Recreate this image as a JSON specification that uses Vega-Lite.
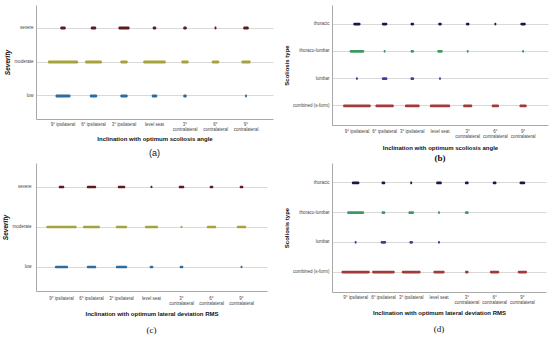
{
  "$schema": "https://vega.github.io/schema/vega-lite/v6.json",
  "padding": {"left": 2, "top": 5, "right": 2, "bottom": 0},
  "background": "white",
  "datasets": {
    "a": [
      {"incl": "9° ipsilateral", "severity": "severe", "n": 3},
      {"incl": "9° ipsilateral", "severity": "moderate", "n": 16},
      {"incl": "9° ipsilateral", "severity": "low", "n": 8},
      {"incl": "6° ipsilateral", "severity": "severe", "n": 3},
      {"incl": "6° ipsilateral", "severity": "moderate", "n": 9},
      {"incl": "6° ipsilateral", "severity": "low", "n": 4},
      {"incl": "3° ipsilateral", "severity": "severe", "n": 6},
      {"incl": "3° ipsilateral", "severity": "moderate", "n": 4},
      {"incl": "3° ipsilateral", "severity": "low", "n": 4},
      {"incl": "level seat", "severity": "severe", "n": 2},
      {"incl": "level seat", "severity": "moderate", "n": 12},
      {"incl": "level seat", "severity": "low", "n": 3},
      {"incl": "3° contralateral", "severity": "severe", "n": 2},
      {"incl": "3° contralateral", "severity": "moderate", "n": 4},
      {"incl": "3° contralateral", "severity": "low", "n": 2},
      {"incl": "6° contralateral", "severity": "severe", "n": 1},
      {"incl": "6° contralateral", "severity": "moderate", "n": 4},
      {"incl": "9° contralateral", "severity": "severe", "n": 3},
      {"incl": "9° contralateral", "severity": "moderate", "n": 5},
      {"incl": "9° contralateral", "severity": "low", "n": 1}
    ],
    "b": [
      {"incl": "9° ipsilateral", "type": "thoracic", "n": 4},
      {"incl": "9° ipsilateral", "type": "thoraco-lumbar", "n": 8},
      {"incl": "9° ipsilateral", "type": "lumbar", "n": 1},
      {"incl": "9° ipsilateral", "type": "combined (s-form)", "n": 15},
      {"incl": "6° ipsilateral", "type": "thoracic", "n": 3},
      {"incl": "6° ipsilateral", "type": "thoraco-lumbar", "n": 1},
      {"incl": "6° ipsilateral", "type": "lumbar", "n": 3},
      {"incl": "6° ipsilateral", "type": "combined (s-form)", "n": 10},
      {"incl": "3° ipsilateral", "type": "thoracic", "n": 2},
      {"incl": "3° ipsilateral", "type": "thoraco-lumbar", "n": 2},
      {"incl": "3° ipsilateral", "type": "lumbar", "n": 2},
      {"incl": "3° ipsilateral", "type": "combined (s-form)", "n": 8},
      {"incl": "level seat", "type": "thoracic", "n": 2},
      {"incl": "level seat", "type": "thoraco-lumbar", "n": 3},
      {"incl": "level seat", "type": "lumbar", "n": 1},
      {"incl": "level seat", "type": "combined (s-form)", "n": 11},
      {"incl": "3° contralateral", "type": "thoracic", "n": 2},
      {"incl": "3° contralateral", "type": "thoraco-lumbar", "n": 1},
      {"incl": "3° contralateral", "type": "combined (s-form)", "n": 5},
      {"incl": "6° contralateral", "type": "thoracic", "n": 1},
      {"incl": "6° contralateral", "type": "combined (s-form)", "n": 4},
      {"incl": "9° contralateral", "type": "thoracic", "n": 3},
      {"incl": "9° contralateral", "type": "thoraco-lumbar", "n": 1},
      {"incl": "9° contralateral", "type": "combined (s-form)", "n": 4}
    ],
    "c": [
      {"incl": "9° ipsilateral", "severity": "severe", "n": 3},
      {"incl": "9° ipsilateral", "severity": "moderate", "n": 16},
      {"incl": "9° ipsilateral", "severity": "low", "n": 7},
      {"incl": "6° ipsilateral", "severity": "severe", "n": 5},
      {"incl": "6° ipsilateral", "severity": "moderate", "n": 9},
      {"incl": "6° ipsilateral", "severity": "low", "n": 5},
      {"incl": "3° ipsilateral", "severity": "severe", "n": 4},
      {"incl": "3° ipsilateral", "severity": "moderate", "n": 6},
      {"incl": "3° ipsilateral", "severity": "low", "n": 6},
      {"incl": "level seat", "severity": "severe", "n": 1},
      {"incl": "level seat", "severity": "moderate", "n": 7},
      {"incl": "level seat", "severity": "low", "n": 2},
      {"incl": "3° contralateral", "severity": "severe", "n": 3},
      {"incl": "3° contralateral", "severity": "moderate", "n": 1},
      {"incl": "3° contralateral", "severity": "low", "n": 2},
      {"incl": "6° contralateral", "severity": "severe", "n": 2},
      {"incl": "6° contralateral", "severity": "moderate", "n": 5},
      {"incl": "9° contralateral", "severity": "severe", "n": 2},
      {"incl": "9° contralateral", "severity": "moderate", "n": 5},
      {"incl": "9° contralateral", "severity": "low", "n": 1}
    ],
    "d": [
      {"incl": "9° ipsilateral", "type": "thoracic", "n": 4},
      {"incl": "9° ipsilateral", "type": "thoraco-lumbar", "n": 9},
      {"incl": "9° ipsilateral", "type": "lumbar", "n": 1},
      {"incl": "9° ipsilateral", "type": "combined (s-form)", "n": 15},
      {"incl": "6° ipsilateral", "type": "thoracic", "n": 2},
      {"incl": "6° ipsilateral", "type": "thoraco-lumbar", "n": 2},
      {"incl": "6° ipsilateral", "type": "lumbar", "n": 3},
      {"incl": "6° ipsilateral", "type": "combined (s-form)", "n": 12},
      {"incl": "3° ipsilateral", "type": "thoracic", "n": 1},
      {"incl": "3° ipsilateral", "type": "thoraco-lumbar", "n": 3},
      {"incl": "3° ipsilateral", "type": "lumbar", "n": 2},
      {"incl": "3° ipsilateral", "type": "combined (s-form)", "n": 10},
      {"incl": "level seat", "type": "thoracic", "n": 3},
      {"incl": "level seat", "type": "thoraco-lumbar", "n": 1},
      {"incl": "level seat", "type": "lumbar", "n": 1},
      {"incl": "level seat", "type": "combined (s-form)", "n": 6},
      {"incl": "3° contralateral", "type": "thoracic", "n": 2},
      {"incl": "3° contralateral", "type": "thoraco-lumbar", "n": 2},
      {"incl": "3° contralateral", "type": "combined (s-form)", "n": 2},
      {"incl": "6° contralateral", "type": "thoracic", "n": 2},
      {"incl": "6° contralateral", "type": "combined (s-form)", "n": 5},
      {"incl": "9° contralateral", "type": "thoracic", "n": 3},
      {"incl": "9° contralateral", "type": "combined (s-form)", "n": 5}
    ]
  },
  "vconcat": [
    {
      "hconcat": [
        {
          "width": 237, "height": 114,
          "data": {"name": "a"},
          "title": {"text": "(a)", "orient": "bottom", "fontSize": 9, "font": "Liberation Sans", "fontWeight": "normal", "offset": 7, "color": "#111111"},
          "mark": {"type": "tick", "orient": "horizontal", "thickness": 3, "cornerRadius": 1.5, "opacity": 1},
          "encoding": {
            "x": {"field": "incl", "type": "nominal", "sort": ["9° ipsilateral", "6° ipsilateral", "3° ipsilateral", "level seat", "3° contralateral", "6° contralateral", "9° contralateral"], "scale": {"paddingInner": 0, "paddingOuter": 0.385}, "axis": {"title": "Inclination with optimum scoliosis angle", "titleColor": "#111111", "labelAngle": 0, "labelPadding": 2, "titlePadding": 5, "labelExpr": "test(/contralateral/, datum.label) ? split(datum.label, ' ') : datum.label"}},
            "y": {"field": "severity", "type": "nominal", "sort": ["severe", "moderate", "low"], "scale": {"paddingInner": 0, "paddingOuter": 0.18}, "axis": {"title": "Severity", "titleFontStyle": "italic", "titleFontSize": 6.5, "labelPadding": 3, "titlePadding": 3}},
            "size": {"field": "n", "type": "quantitative", "scale": {"domain": [0, 20], "range": [0, 38]}, "legend": null},
            "color": {"field": "severity", "type": "nominal", "scale": {"domain": ["severe", "moderate", "low"], "range": ["#5e1a1f", "#a6a23c", "#2e6c9e"]}, "legend": null}
          }
        },
        {
          "width": 216, "height": 120,
          "data": {"name": "b"},
          "title": {"text": "(b)", "orient": "bottom", "fontSize": 9, "font": "Liberation Serif", "fontWeight": "bold", "offset": 3},
          "mark": {"type": "tick", "orient": "horizontal", "thickness": 2.6, "cornerRadius": 1.3, "opacity": 1},
          "encoding": {
            "x": {"field": "incl", "type": "nominal", "sort": ["9° ipsilateral", "6° ipsilateral", "3° ipsilateral", "level seat", "3° contralateral", "6° contralateral", "9° contralateral"], "scale": {"paddingInner": 0, "paddingOuter": 0.4}, "axis": {"title": "Inclination with optimum scoliosis angle", "labelAngle": 0, "labelPadding": 3, "titlePadding": 7, "labelExpr": "test(/contralateral/, datum.label) ? split(datum.label, ' ') : datum.label"}},
            "y": {"field": "type", "type": "nominal", "sort": ["thoracic", "thoraco-lumbar", "lumbar", "combined (s-form)"], "scale": {"paddingInner": 0, "paddingOuter": 0.2}, "axis": {"title": "Scoliosis type", "labelPadding": 3, "titlePadding": 3}},
            "size": {"field": "n", "type": "quantitative", "scale": {"domain": [0, 20], "range": [0, 37]}, "legend": null},
            "color": {"field": "type", "type": "nominal", "scale": {"domain": ["thoracic", "thoraco-lumbar", "lumbar", "combined (s-form)"], "range": ["#151a4a", "#3e9a62", "#4a3a98", "#a33a3a"]}, "legend": null}
          }
        }
      ],
      "spacing": 10,
      "resolve": {"scale": {"color": "independent", "size": "independent", "x": "independent", "y": "independent"}}
    },
    {
      "hconcat": [
        {
          "width": 231, "height": 128,
          "data": {"name": "c"},
          "title": {"text": "(c)", "orient": "bottom", "fontSize": 9, "font": "Liberation Serif", "fontWeight": "normal", "offset": 9},
          "mark": {"type": "tick", "orient": "horizontal", "thickness": 2.6, "cornerRadius": 1.3, "opacity": 1},
          "encoding": {
            "x": {"field": "incl", "type": "nominal", "sort": ["9° ipsilateral", "6° ipsilateral", "3° ipsilateral", "level seat", "3° contralateral", "6° contralateral", "9° contralateral"], "scale": {"paddingInner": 0, "paddingOuter": 0.35}, "axis": {"title": "Inclination with optimum lateral deviation RMS", "labelAngle": 0, "labelPadding": 4, "titlePadding": 6, "labelExpr": "test(/contralateral/, datum.label) ? split(datum.label, ' ') : datum.label"}},
            "y": {"field": "severity", "type": "nominal", "sort": ["severe", "moderate", "low"], "scale": {"paddingInner": 0, "paddingOuter": 0.1}, "axis": {"title": "Severity", "titleFontStyle": "italic", "titleFontSize": 6.5, "labelPadding": 5, "titlePadding": 3}},
            "size": {"field": "n", "type": "quantitative", "scale": {"domain": [0, 20], "range": [0, 38]}, "legend": null},
            "color": {"field": "severity", "type": "nominal", "scale": {"domain": ["severe", "moderate", "low"], "range": ["#5e1a1f", "#a6a23c", "#2e6c9e"]}, "legend": null}
          }
        },
        {
          "width": 214, "height": 129,
          "data": {"name": "d"},
          "title": {"text": "(d)", "orient": "bottom", "fontSize": 9, "font": "Liberation Serif", "fontWeight": "normal", "offset": 9},
          "mark": {"type": "tick", "orient": "horizontal", "thickness": 2.6, "cornerRadius": 1.3, "opacity": 1},
          "encoding": {
            "x": {"field": "incl", "type": "nominal", "sort": ["9° ipsilateral", "6° ipsilateral", "3° ipsilateral", "level seat", "3° contralateral", "6° contralateral", "9° contralateral"], "scale": {"paddingInner": 0, "paddingOuter": 0.35}, "axis": {"title": "Inclination with optimum lateral deviation RMS", "labelAngle": 0, "labelPadding": 2, "titlePadding": 6, "labelExpr": "test(/contralateral/, datum.label) ? split(datum.label, ' ') : datum.label"}},
            "y": {"field": "type", "type": "nominal", "sort": ["thoracic", "thoraco-lumbar", "lumbar", "combined (s-form)"], "scale": {"paddingInner": 0, "paddingOuter": 0.17}, "axis": {"title": "Scoliosis type", "labelPadding": 3, "titlePadding": 3}},
            "size": {"field": "n", "type": "quantitative", "scale": {"domain": [0, 20], "range": [0, 38]}, "legend": null},
            "color": {"field": "type", "type": "nominal", "scale": {"domain": ["thoracic", "thoraco-lumbar", "lumbar", "combined (s-form)"], "range": ["#151a4a", "#3e9a62", "#4a3a98", "#a33a3a"]}, "legend": null}
          }
        }
      ],
      "spacing": 16,
      "resolve": {"scale": {"color": "independent", "size": "independent", "x": "independent", "y": "independent"}}
    }
  ],
  "spacing": 0,
  "resolve": {"scale": {"color": "independent", "size": "independent", "x": "independent", "y": "independent"}},
  "config": {
    "view": {"stroke": null},
    "font": "Liberation Sans",
    "axis": {"domainColor": "#a8a8a8", "domainWidth": 1, "ticks": false, "labelFont": "Liberation Sans", "labelFontSize": 4.5, "labelColor": "#444444", "labelLineHeight": 5, "labelLimit": 200, "titleFont": "Liberation Sans", "titleFontSize": 6, "titleColor": "#111111", "titleFontWeight": "bold", "gridColor": "#d9d9d9", "gridWidth": 1, "bandPosition": 0.5},
    "axisX": {"grid": false},
    "axisY": {"grid": true},
    "title": {"color": "#111111"}
  }
}
